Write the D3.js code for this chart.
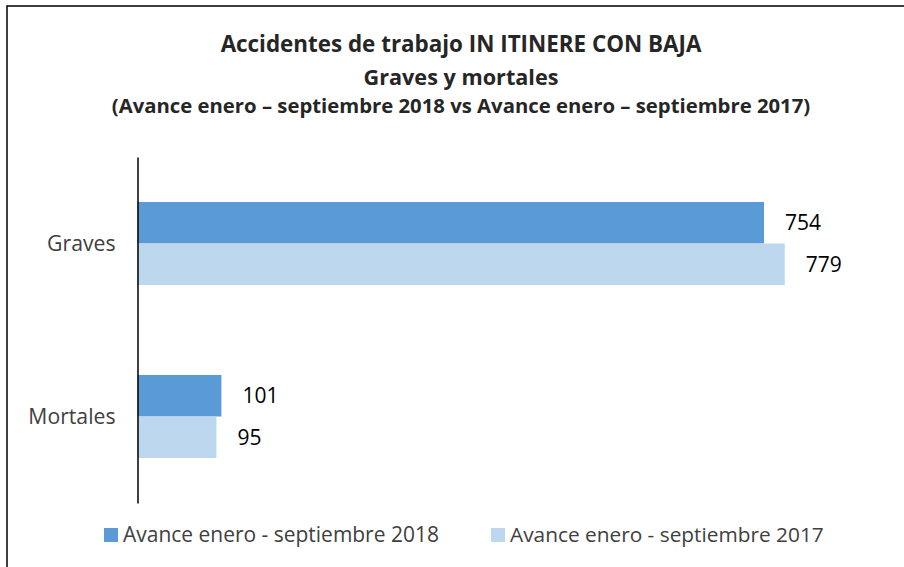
<!DOCTYPE html>
<html>
<head>
<meta charset="utf-8">
<script src="https://cdn.jsdelivr.net/npm/d3@7"></script>
<style>
  body { margin: 0; background: #fff; }
  text { font-family: "Open Sans", "Noto Sans", sans-serif; }
</style>
</head>
<body>
<svg id="chart" width="904" height="567"></svg>
<script>
// Accidentes in itinere -- graves y mortales

var categories = ["Graves", "Mortales"];
var seriesNames = ["Avance enero - septiembre 2018", "Avance enero - septiembre 2017"];
var values2018 = [754, 101];
var values2017 = [779, 95];
var titleLines = [
  "Accidentes de trabajo IN ITINERE CON BAJA",
  "Graves y mortales",
  "(Avance enero \u2013 septiembre 2018 vs Avance enero \u2013 septiembre 2017)"
];

var colors = ["#5B9BD5", "#BDD7EE"];

var width = 904, height = 567;
var svg = d3.select("#chart");

// fit a text element to a given width by changing its font-size
var fitWidth = function (sel, target) {
  var node = sel.node();
  var size = parseFloat(sel.attr("font-size"));
  var w = node.getComputedTextLength();
  if (w > 0) sel.attr("font-size", (size * target / w).toFixed(2));
  return sel;
};

// outer frame (right and bottom edges fall outside the picture)
svg.append("rect")
  .attr("x", 7).attr("y", 6)
  .attr("width", 920).attr("height", 600)
  .attr("fill", "none")
  .attr("stroke", "#000")
  .attr("stroke-width", 1.5);

///////////////////////////////////////////////////////////////////////////////
// Title

var titleY = [52, 85, 113];
var titleW = [481, 195, 699];
var titleSize = [22, 22, 20];
titleLines.forEach(function (line, i) {
  var t = svg.append("text")
    .attr("x", 461).attr("y", titleY[i])
    .attr("text-anchor", "middle")
    .attr("font-weight", "bold")
    .attr("font-size", titleSize[i])
    .attr("fill", "#262626")
    .text(line);
  fitWidth(t, titleW[i]);
});

///////////////////////////////////////////////////////////////////////////////
// Scales

var x = d3.scaleLinear().domain([0, 900]).range([137.5, 885.3]);

var y = d3.scaleBand()
  .domain(categories)
  .range([157, 503])
  .paddingInner(0.52)
  .paddingOuter(0.26);

var ySeries = d3.scaleBand()
  .domain([0, 1])
  .range([0, y.bandwidth()]);

var rows = categories.map(function (c, i) {
  return { cat: c, vals: [values2018[i], values2017[i]] };
});

///////////////////////////////////////////////////////////////////////////////
// Bars

var groups = svg.append("g").selectAll("g")
  .data(rows)
  .join("g")
  .attr("transform", function (d) { return "translate(0," + y(d.cat) + ")"; });

groups.selectAll("rect")
  .data(function (d) { return d.vals; })
  .join("rect")
  .attr("x", x(0))
  .attr("y", function (d, i) { return ySeries(i); })
  .attr("width", function (d) { return x(d) - x(0); })
  .attr("height", ySeries.bandwidth())
  .attr("fill", function (d, i) { return colors[i]; });

groups.selectAll("text")
  .data(function (d) { return d.vals; })
  .join("text")
  .attr("x", function (d) { return x(d) + 21; })
  .attr("y", function (d, i) { return ySeries(i) + ySeries.bandwidth() / 2; })
  .attr("dy", "0.36em")
  .attr("font-size", 21)
  .attr("fill", "#000")
  .text(function (d) { return d; });

///////////////////////////////////////////////////////////////////////////////
// Category axis

var yAxis = svg.append("g")
  .attr("transform", "translate(" + x(0) + ",0)")
  .call(d3.axisLeft(y).tickSize(0).tickPadding(22));

yAxis.select(".domain")
  .attr("stroke", "#000")
  .attr("stroke-width", 1.5);

yAxis.selectAll("text")
  .attr("font-family", "\"Open Sans\", sans-serif")
  .attr("font-size", 21.2)
  .attr("fill", "#404040")
  .attr("dy", "0.36em");

///////////////////////////////////////////////////////////////////////////////
// Legend

var legendX = [104, 491];
var legendW = [316, 314];
seriesNames.forEach(function (name, i) {
  svg.append("rect")
    .attr("x", legendX[i]).attr("y", 528)
    .attr("width", 14).attr("height", 14)
    .attr("fill", colors[i]);
  var t = svg.append("text")
    .attr("x", legendX[i] + 19).attr("y", 542)
    .attr("font-size", 19)
    .attr("fill", "#404040")
    .text(name);
  fitWidth(t, legendW[i]);
});
</script>
</body>
</html>
